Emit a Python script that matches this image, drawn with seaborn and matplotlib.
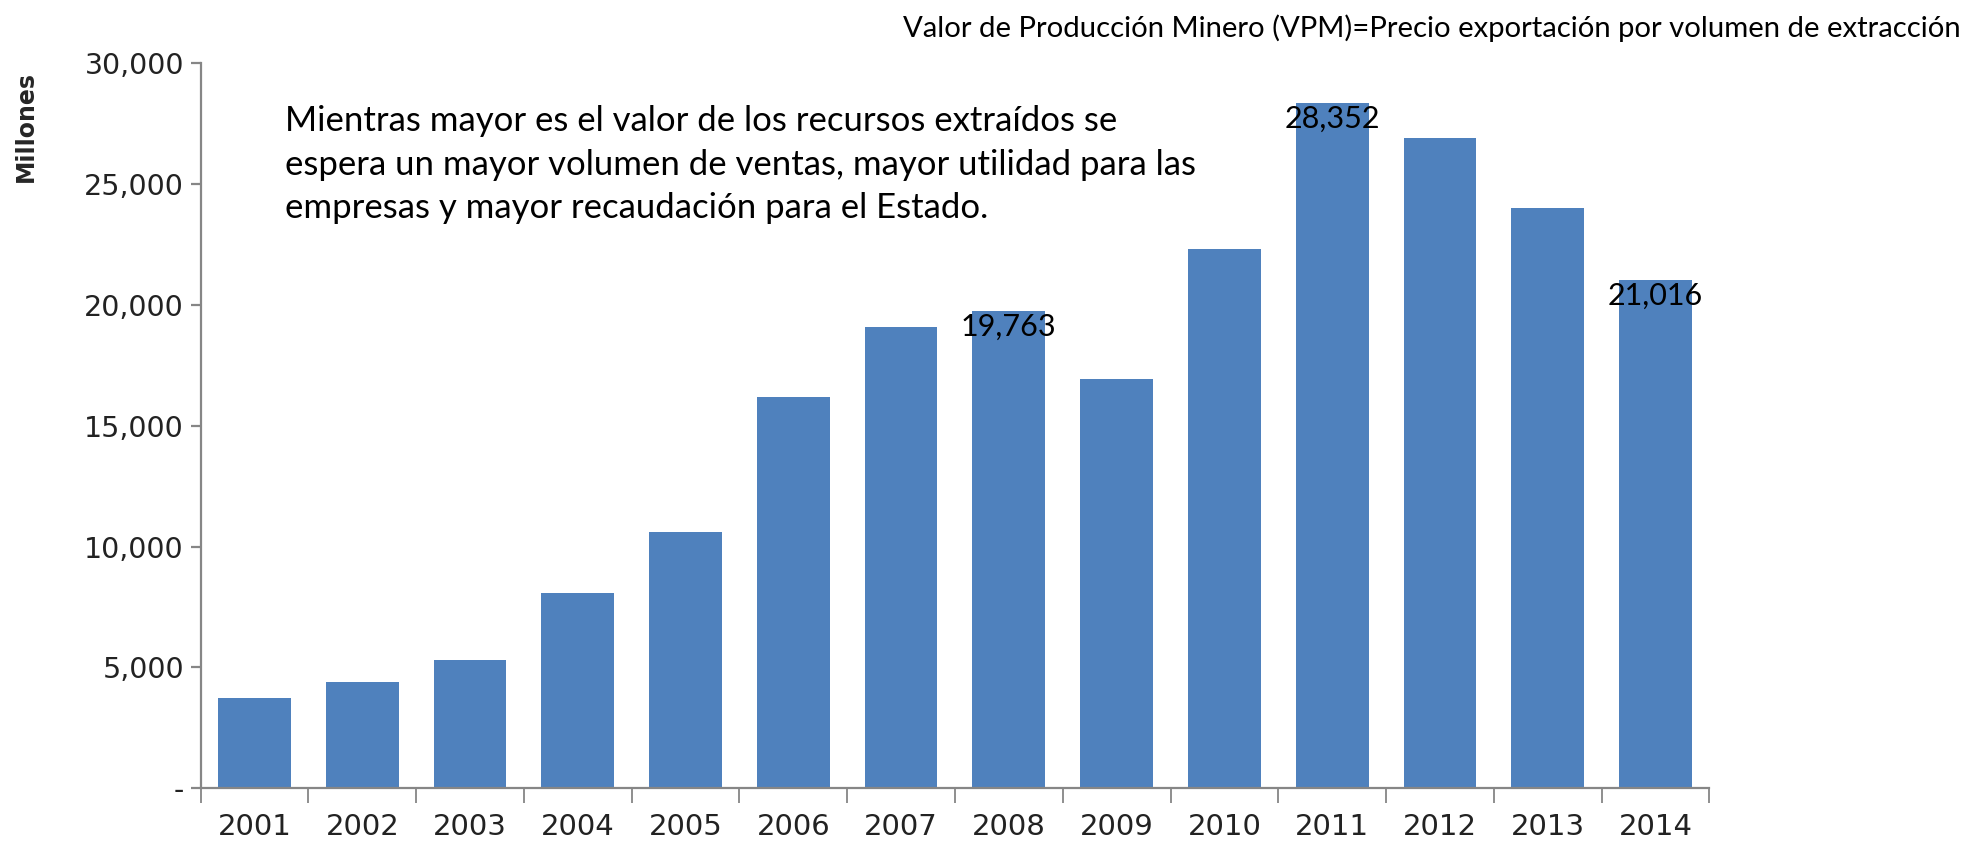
import matplotlib
matplotlib.use("Agg")
import matplotlib.pyplot as plt
import seaborn as sns
import pandas as pd
import numpy as np
from matplotlib.ticker import FixedLocator, FuncFormatter

years = ["2001", "2002", "2003", "2004", "2005", "2006", "2007",
         "2008", "2009", "2010", "2011", "2012", "2013", "2014"]
values = [3750, 4400, 5300, 8100, 10600, 16200, 19100,
          19763, 16950, 22300, 28352, 26900, 24000, 21016]
labeled_years = ["2008", "2011", "2014"]
yticks = [0, 5000, 10000, 15000, 20000, 25000, 30000]

note = ("Mientras mayor es el valor de los recursos extraídos se\n"
        "espera un mayor volumen de ventas, mayor utilidad para las\n"
        "empresas y mayor recaudación para el Estado.")
header = "Valor de Producción Minero (VPM)=Precio exportación por volumen de extracción"

sns.set_theme(style="white")
plt.rcParams['font.family'] = ['Lato', 'DejaVu Sans']

df = pd.DataFrame({"year": years, "value": values})

fig = plt.figure(figsize=(19.67, 8.44), dpi=100)
ax = fig.add_axes([0.102, 0.066, 0.767, 0.859])

sns.barplot(data=df, x="year", y="value", order=years, color="#4F81BD",
            saturation=1, width=0.675, ax=ax, edgecolor="none")

ax.set_xlim(-0.5, len(years) - 0.5)
ax.set_ylim(0, 30000)
ax.yaxis.set_major_locator(FixedLocator(yticks))
ax.yaxis.set_major_formatter(FuncFormatter(lambda v, p: "-" if v == 0 else f"{int(v):,}"))

for s in ["top", "right"]:
    ax.spines[s].set_visible(False)
for s in ["left", "bottom"]:
    ax.spines[s].set_color("#868686")
    ax.spines[s].set_linewidth(1.6)

ax.tick_params(axis="y", which="major", left=True, length=7, width=1.6,
               color="#868686", labelsize=20.5, labelcolor="#222222", pad=5)
ax.tick_params(axis="x", which="major", bottom=False, length=0,
               labelsize=21, labelcolor="#222222", pad=18)
ax.xaxis.set_minor_locator(FixedLocator(np.arange(-0.5, len(years), 1.0)))
ax.tick_params(axis="x", which="minor", bottom=True, length=11, width=1.3,
               color="#868686")
for lab in ax.get_yticklabels() + ax.get_xticklabels():
    lab.set_family("DejaVu Sans")

ax.set_xlabel("")
ax.set_ylabel("")
fig.text(0.013, 0.85, "Millones", rotation=90, fontsize=17, fontweight="bold",
         ha="center", va="center", family=["Liberation Sans Narrow", "DejaVu Sans"])

for i, (y, v) in enumerate(zip(years, values)):
    if y in labeled_years:
        ax.text(i, v - 650, f"{v:,}", ha="center", va="center", fontsize=22,
                color="black")

ax.text(0.0557, 0.942, note, transform=ax.transAxes, ha="left", va="top",
        fontsize=25, linespacing=1.43, color="black")

fig.text(0.997, 0.967, header, ha="right", va="center", fontsize=21.1, color="black")

fig.savefig("out.png", dpi=100)
